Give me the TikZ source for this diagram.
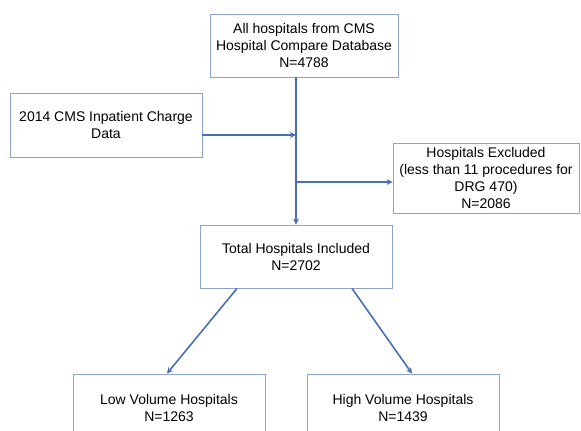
\documentclass[tikz,border=0pt]{standalone}
\usepackage{fontspec}
\setmainfont{Liberation Sans}
\usepackage{tikz}
\usetikzlibrary{arrows.meta, positioning, shadows}
\definecolor{boxline}{HTML}{8EA3CC}
\definecolor{flowline}{HTML}{4C6EB3}

\begin{document}
\begin{tikzpicture}[x=1pt, y=1pt, font=\fontsize{14}{17}\selectfont,
    stagebox/.style={draw=boxline, line width=0.9pt, fill=white, align=center, inner sep=0pt,
        drop shadow={shadow xshift=1.2pt, shadow yshift=-1.2pt, fill=black!22}},
    flow/.style={draw=flowline, line width=1.6pt, -{Stealth[length=6pt, width=6pt]}}]
    \useasboundingbox[fill=white] (0,0) rectangle (581,431);
    \node[stagebox, minimum width=188pt, minimum height=63pt] (cms) at (304,385.5) {All hospitals from CMS\\Hospital Compare Database\\N=4788};
    \node[stagebox, minimum width=192pt, minimum height=64pt] (charge) at (106,306) {2014 CMS Inpatient Charge\\Data};
    \node[stagebox, minimum width=186pt, minimum height=70pt] (excl) at (486,253) {Hospitals Excluded\\(less than 11 procedures for\\DRG 470)\\N=2086};
    \node[stagebox, minimum width=192pt, minimum height=63pt] (incl) at (296,174.5) {Total Hospitals Included\\N=2702};
    \node[stagebox, minimum width=192pt, minimum height=68pt] (low) at (169,23) {Low Volume Hospitals\\N=1263};
    \node[stagebox, minimum width=192pt, minimum height=68pt] (high) at (403,23) {High Volume Hospitals\\N=1439};
    % junction points on the main line
    \coordinate (chargeout) at ([yshift=-10pt]charge.east);
    \coordinate (exclin) at ([yshift=-4pt]excl.west);
    \draw[flow] (incl.north |- cms.south) -- (incl.north);
    \draw[flow] (chargeout) -- (incl.north |- chargeout);
    \draw[flow] (incl.north |- exclin) -- (exclin);
    \draw[flow] ([xshift=-59pt]incl.south) -- ([xshift=-2pt]low.north);
    \draw[flow] ([xshift=56pt]incl.south) -- ([xshift=9pt]high.north);
\end{tikzpicture}
\end{document}
